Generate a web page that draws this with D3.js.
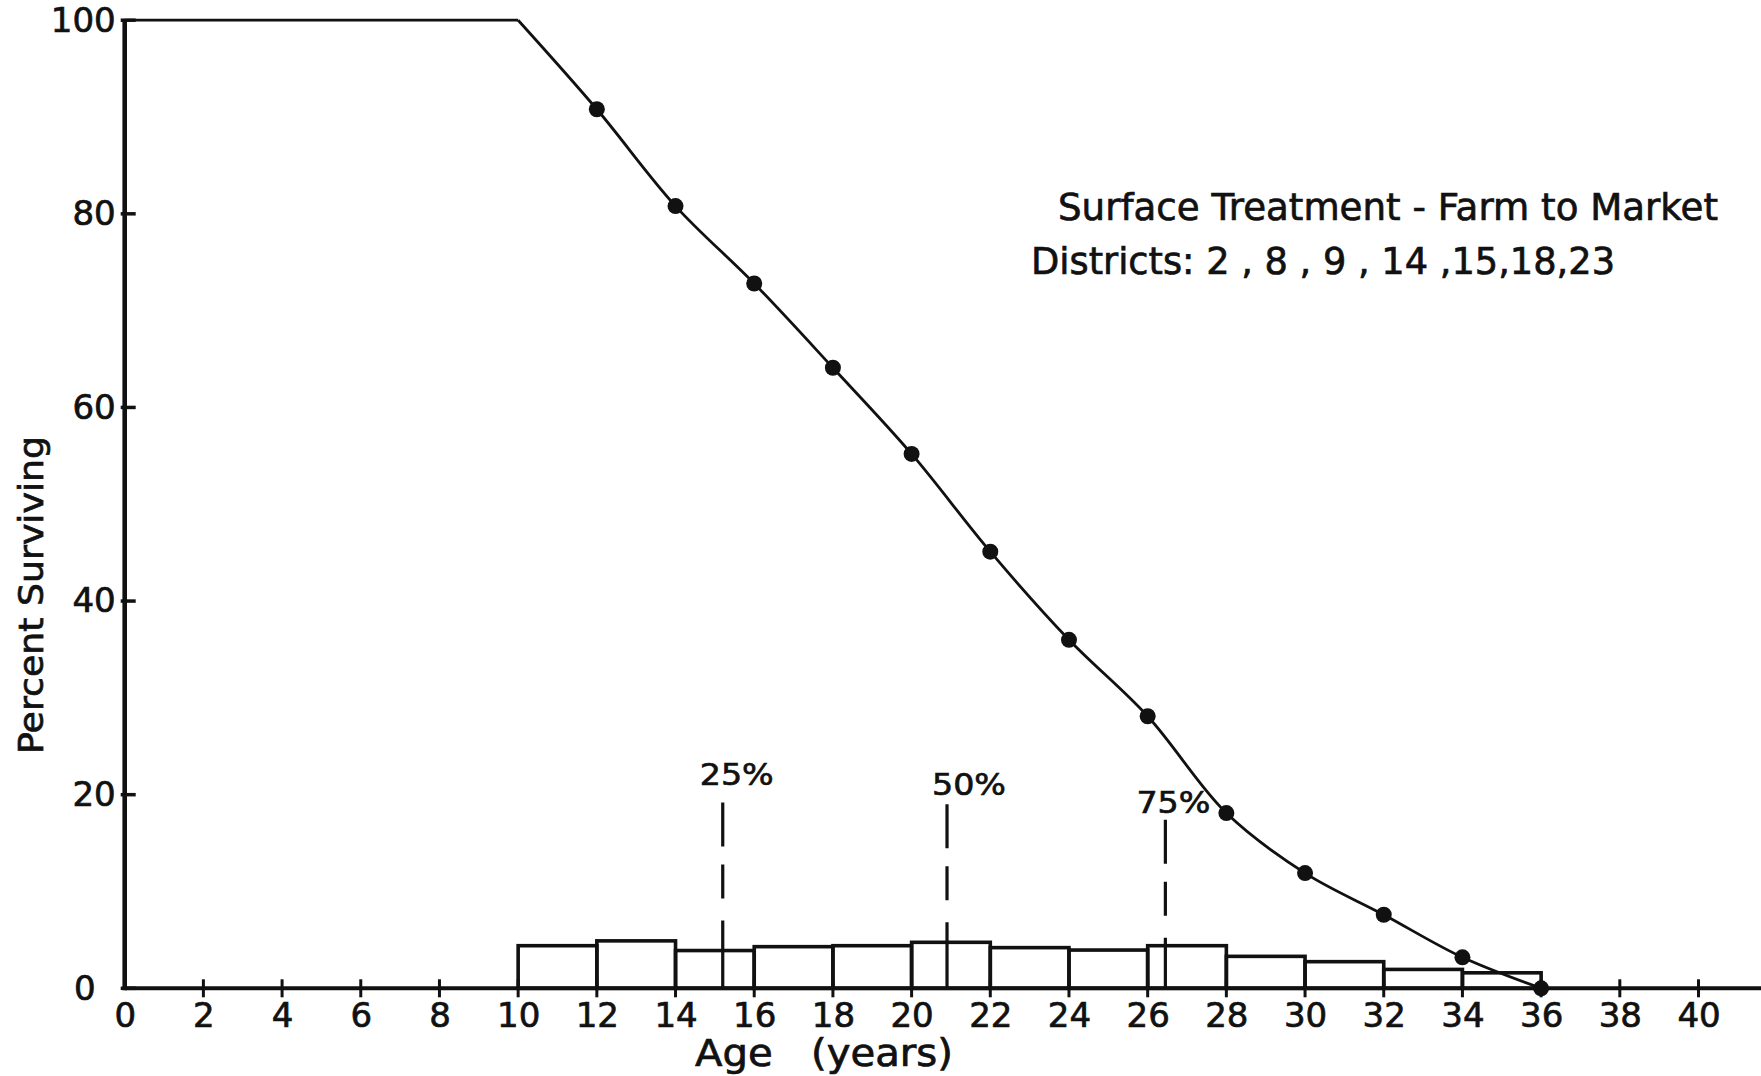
<!DOCTYPE html>
<html>
<head>
<meta charset="utf-8">
<script src="https://cdn.jsdelivr.net/npm/d3@7/dist/d3.min.js"></script>
<style>
  html, body { margin: 0; padding: 0; background: #fff; }
  svg { display: block; }
  text { font-family: "DejaVu Sans", sans-serif; fill: #111; stroke: #111; stroke-width: 0.7px; }
</style>
</head>
<body>
<svg id="chart" width="1761" height="1076"></svg>
<script>
// ---------------- data ----------------
const ages = [0, 10, 12, 14, 16, 18, 20, 22, 24, 26, 28, 30, 32, 34, 36];
const surviving = [100, 100, 90.8, 80.8, 72.8, 64.1, 55.2, 45.1, 36.0, 28.1, 18.1, 11.9, 7.6, 3.2, 0];
const markerAges = [12, 14, 16, 18, 20, 22, 24, 26, 28, 30, 32, 34, 36];
const binStarts = [10, 12, 14, 16, 18, 20, 22, 24, 26, 28, 30, 32, 34];
const binWidth = 2;
const retired = [4.4, 4.9, 3.9, 4.3, 4.4, 4.75, 4.2, 3.95, 4.4, 3.3, 2.75, 1.95, 1.6];
const xTickValues = [0, 2, 4, 6, 8, 10, 12, 14, 16, 18, 20, 22, 24, 26, 28, 30, 32, 34, 36, 38, 40];
const yTickValues = [0, 20, 40, 60, 80, 100];
const quartileLabels = ["25%", "50%", "75%"];
const quartileAges = [15.2, 20.9, 26.45];
const quartileTops = [19.2, 19.0, 17.4];
const titleLines = ["Surface Treatment - Farm to Market", "Districts: 2 , 8 , 9 , 14 ,15,18,23"];
const xAxisTitle = "Age   (years)";
const yAxisTitle = "Percent Surviving";

// ---------------- layout ----------------
const svg = d3.select("#chart");
const x = d3.scaleLinear().domain([0, 40]).range([124.7, 1698.5]);
const y = d3.scaleLinear().domain([0, 100]).range([988.3, 20.2]);
const ink = "#111";

// histogram bars
svg.append("g").selectAll("rect")
  .data(binStarts.map((s, i) => ({ s, v: retired[i] })))
  .join("rect")
  .attr("x", d => x(d.s))
  .attr("width", d => x(d.s + binWidth) - x(d.s))
  .attr("y", d => y(d.v))
  .attr("height", d => y(0) - y(d.v))
  .attr("fill", "none")
  .attr("stroke", ink)
  .attr("stroke-width", 3.6);

// quartile dashed lines and labels
const labelOffsets = [{ dx: 14, dy: -17 }, { dx: 22, dy: -9 }, { dx: 8, dy: -7 }];
const qg = svg.append("g");
quartileAges.forEach((a, i) => {
  qg.append("line")
    .attr("x1", x(a)).attr("x2", x(a))
    .attr("y1", y(quartileTops[i])).attr("y2", y(0))
    .attr("stroke", ink).attr("stroke-width", 3.2)
    .attr("stroke-dasharray", "44 18 34 22 200");
  qg.append("text")
    .attr("x", x(a) + labelOffsets[i].dx)
    .attr("y", y(quartileTops[i]) + labelOffsets[i].dy)
    .attr("text-anchor", "middle")
    .attr("font-size", 31)
    .attr("textLength", 74).attr("lengthAdjust", "spacingAndGlyphs")
    .text(quartileLabels[i]);
});

// survival curve: flat part then smooth decline
const pts = ages.map((a, i) => [a, surviving[i]]);
const flat = pts.filter(p => p[0] <= 10);
const decline = pts.filter(p => p[0] >= 10);
svg.append("path")
  .attr("d", d3.line().x(d => x(d[0])).y(d => y(d[1])).curve(d3.curveLinear)(flat))
  .attr("fill", "none").attr("stroke", ink).attr("stroke-width", 2.8);
svg.append("path")
  .attr("d", d3.line().x(d => x(d[0])).y(d => y(d[1])).curve(d3.curveCatmullRom.alpha(0.5))(decline))
  .attr("fill", "none").attr("stroke", ink).attr("stroke-width", 2.8);

// markers
svg.append("g").selectAll("circle")
  .data(pts.filter(p => markerAges.includes(p[0])))
  .join("circle")
  .attr("cx", d => x(d[0]))
  .attr("cy", d => y(d[1]))
  .attr("r", 8)
  .attr("fill", ink);

// axes lines
svg.append("line")
  .attr("x1", x(0)).attr("x2", 1761)
  .attr("y1", y(0)).attr("y2", y(0))
  .attr("stroke", ink).attr("stroke-width", 4);
svg.append("line")
  .attr("x1", x(0)).attr("x2", x(0))
  .attr("y1", y(0) + 2).attr("y2", y(100))
  .attr("stroke", ink).attr("stroke-width", 4.6);

// x tick marks crossing the axis
svg.append("g").selectAll("line")
  .data(xTickValues.filter(v => v > 0))
  .join("line")
  .attr("x1", d => x(d)).attr("x2", d => x(d))
  .attr("y1", y(0) - 9).attr("y2", y(0) + 9)
  .attr("stroke", ink).attr("stroke-width", 3);

// y tick marks
svg.append("g").selectAll("line")
  .data(yTickValues)
  .join("line")
  .attr("x1", x(0) - 4).attr("x2", x(0) + 11)
  .attr("y1", d => y(d)).attr("y2", d => y(d))
  .attr("stroke", ink).attr("stroke-width", 3.5);

// x axis labels via d3 axis
const gx = svg.append("g")
  .attr("transform", `translate(0,${y(0)})`)
  .call(d3.axisBottom(x).tickValues(xTickValues).tickSize(0).tickPadding(15).tickFormat(d3.format("d")));
gx.select(".domain").remove();
gx.selectAll("text").attr("font-size", 34).attr("font-family", "DejaVu Sans").attr("fill", ink);

// y axis labels via d3 axis
const gy = svg.append("g")
  .attr("transform", `translate(${x(0)},0)`)
  .call(d3.axisLeft(y).tickValues(yTickValues).tickSize(0).tickPadding(9).tickFormat(d3.format("d")));
gy.select(".domain").remove();
gy.selectAll("text").attr("font-size", 34).attr("font-family", "DejaVu Sans").attr("fill", ink)
  .attr("dx", d => d === 0 ? -20 : 0);

// axis titles
svg.append("text")
  .attr("x", 695).attr("y", 1066)
  .attr("font-size", 37)
  .style("white-space", "pre")
  .attr("textLength", 258).attr("lengthAdjust", "spacingAndGlyphs")
  .text(xAxisTitle);
svg.append("text")
  .attr("transform", "translate(43,595) rotate(-90)")
  .attr("text-anchor", "middle")
  .attr("font-size", 34)
  .attr("textLength", 318).attr("lengthAdjust", "spacingAndGlyphs")
  .text(yAxisTitle);

// chart title (two lines)
const titlePos = [{ x: 1058, y: 220, w: 660 }, { x: 1031, y: 274, w: 584 }];
titleLines.forEach((t, i) => {
  svg.append("text")
    .attr("x", titlePos[i].x).attr("y", titlePos[i].y)
    .attr("font-size", 38)
    .attr("textLength", titlePos[i].w).attr("lengthAdjust", "spacingAndGlyphs")
    .text(t);
});
</script>
</body>
</html>
